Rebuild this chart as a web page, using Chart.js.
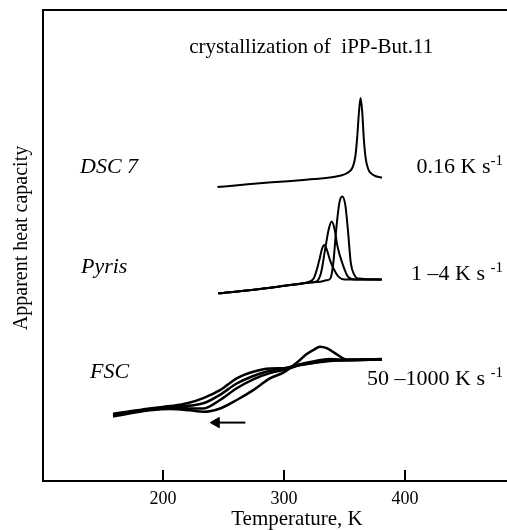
<!DOCTYPE html>
<html>
<head>
<meta charset="utf-8">
<script src="https://cdn.jsdelivr.net/npm/chart.js@4.4.0/dist/chart.umd.min.js"></script>
<style>
  html, body { margin: 0; padding: 0; background: #fff; overflow: hidden; }
  #wrap { width: 507px; height: 530px; }
  canvas { display: block; }
</style>
</head>
<body>
<div id="wrap"><canvas id="chart-1"></canvas></div>
<script>
// temperature (K) and apparent heat capacity (arbitrary units)
const xTicks = [200, 300, 400];

const dscT = [245, 270, 300, 325, 342, 350, 354, 357, 359, 360.5, 362, 363.3, 364.6, 366, 367.5, 369.5, 372, 376, 381];
const dscCp = [62.4, 63.0, 63.6, 64.1, 64.6, 65.1, 65.7, 66.8, 69.0, 73.0, 78.5, 81.3, 78.5, 72.5, 68.5, 66.3, 65.3, 64.7, 64.4];

const pyris1T = [245.7, 275, 305, 318, 324.5, 329.2, 331.3, 333.3, 335.3, 338, 341.5, 345, 350, 365, 380.7];
const pyris1Cp = [39.85, 40.6, 41.6, 42.1, 43.0, 46.9, 49.2, 50.1, 49.2, 46.9, 44.8, 43.4, 42.8, 42.8, 42.8];
const pyris2T = [245.7, 275, 305, 320, 327, 330.6, 334.3, 337.1, 339.4, 341.7, 344.3, 348.5, 352.8, 358.3, 380.7];
const pyris2Cp = [39.85, 40.6, 41.6, 42.1, 42.4, 44.2, 49.7, 53.6, 55.1, 53.6, 49.7, 46.0, 43.4, 42.8, 42.8];
const pyris3T = [245.7, 275, 305, 320, 330, 335, 338.3, 340.7, 343.1, 345.7, 348.2, 350.7, 352.8, 355.2, 358, 361, 380.7];
const pyris3Cp = [39.85, 40.6, 41.6, 42.1, 42.3, 42.6, 43.0, 46.2, 53.3, 59.0, 60.4, 58.5, 53.3, 46.3, 43.8, 43.0, 42.8];

const fsc1T = [158.7, 189.3, 205.8, 220, 233.3, 247.1, 260.9, 274.6, 288.4, 302.2, 313.2, 338, 381];
const fsc1Cp = [14.3, 15.4, 15.9, 16.5, 17.6, 19.3, 21.8, 23.2, 23.9, 24.0, 24.6, 25.5, 25.9];
const fsc2T = [158.7, 189.3, 205.8, 233.3, 247.1, 260.9, 274.6, 288.4, 299.4, 313.2, 324, 338, 352.9, 381];
const fsc2Cp = [14.1, 15.3, 15.7, 16.5, 18.3, 20.7, 22.3, 23.4, 23.9, 24.8, 25.4, 25.9, 25.7, 25.8];
const fsc3T = [158.7, 189.3, 205.8, 222.3, 233.3, 247.1, 260.9, 274.6, 288.4, 302.2, 313.2, 324.2, 338, 351.8, 381];
const fsc3Cp = [13.9, 15.2, 15.6, 15.4, 15.4, 17.2, 19.7, 21.6, 22.9, 23.7, 24.6, 25.1, 25.6, 25.6, 25.8];
const fsc4T = [158.7, 189.3, 205.8, 222.3, 233.3, 247.1, 260.9, 274.6, 288.4, 299.4, 306, 313.2, 318.5, 324.2, 329.8, 335.3, 343, 351.8, 365, 381];
const fsc4Cp = [13.7, 15.0, 15.3, 15.0, 14.7, 15.4, 17.2, 19.3, 21.8, 23.0, 24.2, 25.7, 26.9, 27.8, 28.5, 28.2, 27.0, 25.8, 25.8, 25.8];

// cooling direction arrow
const arrowT = [268, 244];
const arrowCp = [12.4, 12.4];

const pts = (ts, cps) => ts.map((t, i) => ({ x: t, y: cps[i] }));
const serif = '"Liberation Serif", "Times New Roman", serif';

const notes = [
  { text: "crystallization of  iPP-But.11", t: 322.5, v: 90.9, align: "center", size: 21 },
  { text: "DSC 7", t: 131.4, v: 65.3, align: "left", size: 22, italic: true },
  { text: "Pyris", t: 132.2, v: 44.1, align: "left", size: 22, italic: true },
  { text: "FSC", t: 139.7, v: 21.9, align: "left", size: 22, italic: true },
  { text: "0.16 K s", sup: "-1", t: 481, v: 65.3, align: "right", size: 22 },
  { text: "1 \u20134 K s ", sup: "-1", t: 481, v: 42.7, align: "right", size: 22 },
  { text: "50 \u20131000 K s ", sup: "-1", t: 481, v: 20.4, align: "right", size: 22 },
];

const annotate = {
  id: "annotate",
  afterDraw(chart) {
    const { ctx, chartArea, scales: { x, y } } = chart;
    ctx.save();
    ctx.strokeStyle = "#000";
    ctx.lineWidth = 2;
    xTicks.forEach((v) => {
      const px = Math.round(x.getPixelForValue(v));
      ctx.beginPath();
      ctx.moveTo(px, chartArea.bottom);
      ctx.lineTo(px, chartArea.bottom - 11);
      ctx.stroke();
    });
    ctx.fillStyle = "#000";
    ctx.textBaseline = "alphabetic";
    notes.forEach((n) => {
      let px = x.getPixelForValue(n.t);
      const py = y.getPixelForValue(n.v);
      if (n.sup) {
        ctx.font = `15px ${serif}`;
        ctx.textAlign = "right";
        ctx.fillText(n.sup, px, py - 8);
        px -= ctx.measureText(n.sup).width;
      }
      ctx.font = `${n.italic ? "italic " : ""}${n.size}px ${serif}`;
      ctx.textAlign = n.align;
      ctx.fillText(n.text, px, py);
    });
    // axis titles (the x title sits right of centre in the original)
    ctx.font = `21px ${serif}`;
    ctx.textAlign = "center";
    ctx.fillText("Temperature, K", x.getPixelForValue(310.7), chart.height - 5);
    ctx.translate(27, y.getPixelForValue(51.6));
    ctx.rotate(-Math.PI / 2);
    ctx.font = `20px ${serif}`;
    ctx.fillText("Apparent heat capacity", 0, 0);
    ctx.restore();
  },
};

const ctx_1 = document.getElementById("chart-1");
new Chart(ctx_1, {
  type: "scatter",
  data: {
    datasets: [
      { label: "DSC 7", data: pts(dscT, dscCp) },
      { label: "Pyris 1", data: pts(pyris1T, pyris1Cp) },
      { label: "Pyris 2", data: pts(pyris2T, pyris2Cp) },
      { label: "Pyris 3", data: pts(pyris3T, pyris3Cp) },
      { label: "FSC 1", data: pts(fsc1T, fsc1Cp), borderWidth: 2.5 },
      { label: "FSC 2", data: pts(fsc2T, fsc2Cp), borderWidth: 2.5 },
      { label: "FSC 3", data: pts(fsc3T, fsc3Cp), borderWidth: 2.5 },
      { label: "FSC 4", data: pts(fsc4T, fsc4Cp), borderWidth: 2.5 },
      {
        label: "arrow",
        data: pts(arrowT, arrowCp),
        cubicInterpolationMode: "default",
        pointRadius: [0, 6],
        pointStyle: "triangle",
        pointRotation: -90,
        pointBackgroundColor: "#000",
        pointBorderColor: "#000",
        pointBorderWidth: 1,
      },
    ],
  },
  options: {
    responsive: true,
    maintainAspectRatio: false,
    animation: false,
    showLine: true,
    layout: { autoPadding: false, padding: { top: 10, right: 0, bottom: 0, left: 0 } },
    elements: {
      point: { radius: 0, hoverRadius: 0 },
      line: {
        borderColor: "#000",
        borderWidth: 2,
        cubicInterpolationMode: "monotone",
        fill: false,
      },
    },
    plugins: {
      legend: { display: false },
      tooltip: { enabled: false },
    },
    scales: {
      x: {
        type: "linear",
        position: "bottom",
        min: 100.8,
        max: 484.3,
        afterBuildTicks: (s) => {
          s.ticks = xTicks.map((v) => ({ value: v }));
        },
        afterFit: (s) => {
          s.height = 49;
          s.paddingLeft = 0;
          s.paddingRight = 0;
        },
        grid: { display: false, drawTicks: false },
        border: { color: "#000", width: 2 },
        ticks: {
          color: "#000",
          padding: 7,
          autoSkip: false,
          maxRotation: 0,
          font: { family: serif, size: 18 },
        },
      },
      x2: {
        type: "linear",
        position: "top",
        afterFit: (s) => {
          s.height = 0;
          s.paddingLeft = 0;
          s.paddingRight = 0;
        },
        grid: { display: false, drawTicks: false },
        border: { color: "#000", width: 2 },
        ticks: { display: false },
      },
      y: {
        type: "linear",
        position: "left",
        min: 0,
        max: 100,
        afterFit: (s) => {
          s.width = 43;
          s.paddingTop = 0;
          s.paddingBottom = 0;
        },
        grid: { display: false, drawTicks: false },
        border: { color: "#000", width: 2 },
        ticks: { display: false },
      },
    },
  },
  plugins: [annotate],
});
</script>
</body>
</html>
